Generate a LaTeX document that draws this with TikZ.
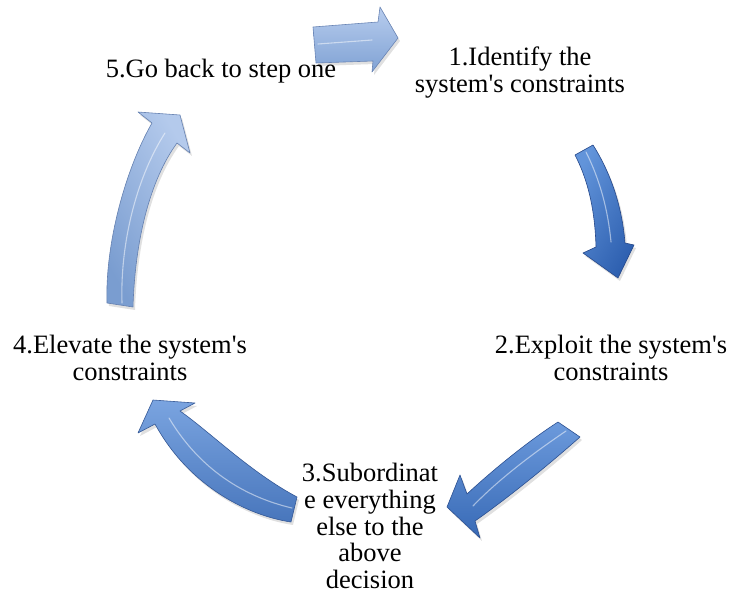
\documentclass[tikz,border=0pt]{standalone}
\usepackage{fontspec}
\setmainfont{Liberation Serif}[Ligatures=TeXOff]
\definecolor{aOneTop}{RGB}{184,205,238}
\definecolor{aOneBot}{RGB}{128,162,212}
\definecolor{aOneEdge}{RGB}{105,132,180}
\definecolor{aTwoTop}{RGB}{98,148,218}
\definecolor{aTwoBot}{RGB}{46,96,176}
\definecolor{aTwoEdge}{RGB}{38,72,138}
\definecolor{aThreeTop}{RGB}{108,154,220}
\definecolor{aThreeBot}{RGB}{56,106,182}
\definecolor{aThreeEdge}{RGB}{44,80,145}
\definecolor{aFourTop}{RGB}{122,164,224}
\definecolor{aFourBot}{RGB}{72,118,188}
\definecolor{aFourEdge}{RGB}{52,88,150}
\definecolor{aFiveTop}{RGB}{180,202,236}
\definecolor{aFiveBot}{RGB}{122,157,208}
\definecolor{aFiveEdge}{RGB}{100,128,176}
\begin{document}
\begin{tikzpicture}[x=1pt,y=-1pt,
  lbl/.style={font=\fontsize{26.5}{27}\selectfont, align=center, inner sep=0pt, anchor=north},
  arrowshadow/.style={fill=black, opacity=0.12},
  blockarrow/.style n args={3}{draw=#3, line width=0.6pt, line join=round,
     top color=#1, bottom color=#2},
  gleam/.style={draw=white, opacity=0.5, line width=1.1pt, line cap=round},
]
\useasboundingbox (0,0) rectangle (729,594);

% outlines of the five curved block arrows
\def\arrowA{(313,27) -- (378,22) -- (380,7) -- (398,38) -- (372,72) -- (373,61) -- (316,63) -- cycle}
\def\arrowB{(593,145) .. controls (610,172) and (622,205) .. (625,243) -- (634,245) -- (618,278) -- (583,253) -- (596,247) .. controls (595,210) and (588,180) .. (575,155) -- cycle}
\def\arrowC{(558,422) .. controls (530,440) and (495,468) .. (467,494) -- (460,475) -- (447,507) -- (480,538) -- (475,521) .. controls (505,500) and (545,468) .. (580,437) -- cycle}
\def\arrowD{(180,411) .. controls (210,432) and (250,472) .. (297,497) -- (291,522) .. controls (250,516) and (190,488) .. (155,424) -- (138,433) -- (153,400) -- (195,403) -- cycle}
\def\arrowE{(107,303) .. controls (105,245) and (125,170) .. (152,123) -- (138,112) -- (180,115) -- (190,153) -- (177,143) .. controls (150,180) and (135,240) .. (133,307) -- cycle}

% soft shadows
\begin{scope}[shift={(2,3)}]
  \fill[arrowshadow] \arrowA;
  \fill[arrowshadow] \arrowB;
  \fill[arrowshadow] \arrowC;
  \fill[arrowshadow] \arrowD;
  \fill[arrowshadow] \arrowE;
\end{scope}

% arrow bodies
\path[blockarrow={aOneTop}{aOneBot}{aOneEdge}] \arrowA;
\path[blockarrow={aTwoTop}{aTwoBot}{aTwoEdge}, shading angle=60] \arrowB;
\path[blockarrow={aThreeTop}{aThreeBot}{aThreeEdge}] \arrowC;
\path[blockarrow={aFourTop}{aFourBot}{aFourEdge}] \arrowD;
\path[blockarrow={aFiveTop}{aFiveBot}{aFiveEdge}, shading angle=-60] \arrowE;

% highlights along the shafts
\draw[gleam] (318,44) -- (372,40);
\draw[gleam] (586,152) .. controls (600,180) and (608,210) .. (611,242);
\draw[gleam] (566,431) .. controls (535,452) and (500,478) .. (473,506);
\draw[gleam] (292,508) .. controls (245,497) and (200,470) .. (169,418);
\draw[gleam] (122,303) .. controls (120,240) and (138,175) .. (165,133);

% step labels
\node[lbl] (s1) at (520,47) {1.Identify the\\system's constraints};
\node[lbl] (s2) at (611,335) {2.Exploit the system's\\constraints};
\node[lbl, font=\fontsize{26.5}{26.8}\selectfont] (s3) at (370,463) {3.Subordinat\\e everything\\else to the\\above\\decision};
\node[lbl] (s4) at (130,335) {4.Elevate the system's\\constraints};
\node[lbl] (s5) at (221,59) {5.Go back to step one};
\end{tikzpicture}
\end{document}
